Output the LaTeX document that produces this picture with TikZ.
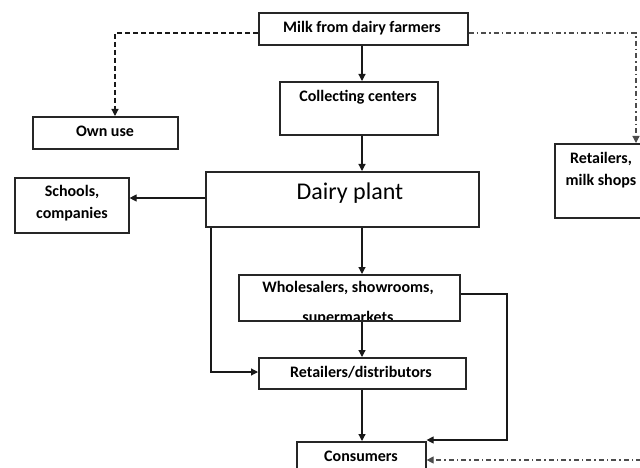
\documentclass[tikz,border=0pt]{standalone}
\usepackage{fontspec}
\setmainfont{Carlito}
\usetikzlibrary{arrows.meta}
\begin{document}
\begin{tikzpicture}[x=1pt,y=-1pt,
  box/.style={draw=black!85,line width=1.6pt,fill=white,anchor=north west,inner sep=0pt},
  lbl/.style={font=\fontsize{16}{22}\selectfont\bfseries,align=center,inner sep=0pt},
  big/.style={font=\fontsize{24}{26}\selectfont,inner sep=0pt},
  arr/.style={line width=1.2pt,black!90,-{Triangle[length=7pt,width=7pt]}},
  dsh/.style={arr,dash pattern=on 5pt off 3pt},
  dd/.style={arr,black!70,dash pattern=on 5pt off 3pt on 1.5pt off 3pt}]
\clip (0,0) rectangle (640,468);
\fill[white] (0,0) rectangle (640,468);
% boxes
\node[box,minimum width=209pt,minimum height=32pt] (milk) at (258,12) {};
\node[box,minimum width=145pt,minimum height=32pt] (own) at (32,116) {};
\node[box,minimum width=158pt,minimum height=53pt] (coll) at (279,81) {};
\node[box,minimum width=273pt,minimum height=55pt] (plant) at (205,171) {};
\node[box,minimum width=114pt,minimum height=55pt] (schools) at (14,177) {};
\node[box,minimum width=110pt,minimum height=74pt] (retm) at (554,143) {};
\node[box,minimum width=221pt,minimum height=46pt] (whole) at (238,274) {};
\node[box,minimum width=207pt,minimum height=31pt] (ret) at (258,357) {};
\node[box,minimum width=129pt,minimum height=60pt] (cons) at (296,441) {};
% texts
\node[lbl] (tmilk) at (362,28) {Milk from dairy farmers};
\node[lbl] (town) at (105,131) {Own use};
\node[lbl] (tcoll) at (358,97) {Collecting centers};
\node[big] (tplant) at (350,193) {Dairy plant};
\node[lbl] (tschools) at (72,203) {Schools,\\companies};
\node[lbl] (tretm) at (601,170) {Retailers,\\milk shops};
\begin{scope}
\clip (239,275) rectangle (458,319);
\node[lbl,font=\fontsize{16}{30}\selectfont\bfseries] (twhole) at (348,303) {Wholesalers, showrooms,\\supermarkets};
\end{scope}
\node[lbl] (tret) at (361,372) {Retailers/distributors};
\node[lbl] (tcons) at (361,456) {Consumers};
% connectors
\coordinate (c1) at (115,33);
\draw[dsh] (milk.west |- c1) -- (c1) -- (c1 |- own.north);
\coordinate (c2) at (636,33);
\draw[dd] (milk.east |- c2) -- (c2) -- (c2 |- retm.north);
\draw[arr] (milk.south -| tmilk) -- (coll.north -| tmilk);
\draw[arr] (coll.south -| tmilk) -- (plant.north -| tmilk);
\coordinate (c3) at (0,198);
\draw[arr] (plant.west |- c3) -- (schools.east |- c3);
\draw[arr] (plant.south -| tmilk) -- (whole.north -| tmilk);
\draw[arr] (whole.south -| tmilk) -- (ret.north -| tmilk);
\coordinate (c4) at (211,372);
\draw[arr] (plant.south -| c4) -- (c4) -- (ret.west |- c4);
\draw[arr] (ret.south -| tmilk) -- (cons.north -| tmilk);
\coordinate (c5) at (507,294);
\coordinate (c6) at (507,440);
\draw[arr] (whole.east |- c5) -- (c5) -- (c6) -- (cons.east |- c6);
\coordinate (c7) at (641,460);
\draw[dd] (c7) -- (cons.east |- c7);
\end{tikzpicture}
\end{document}
